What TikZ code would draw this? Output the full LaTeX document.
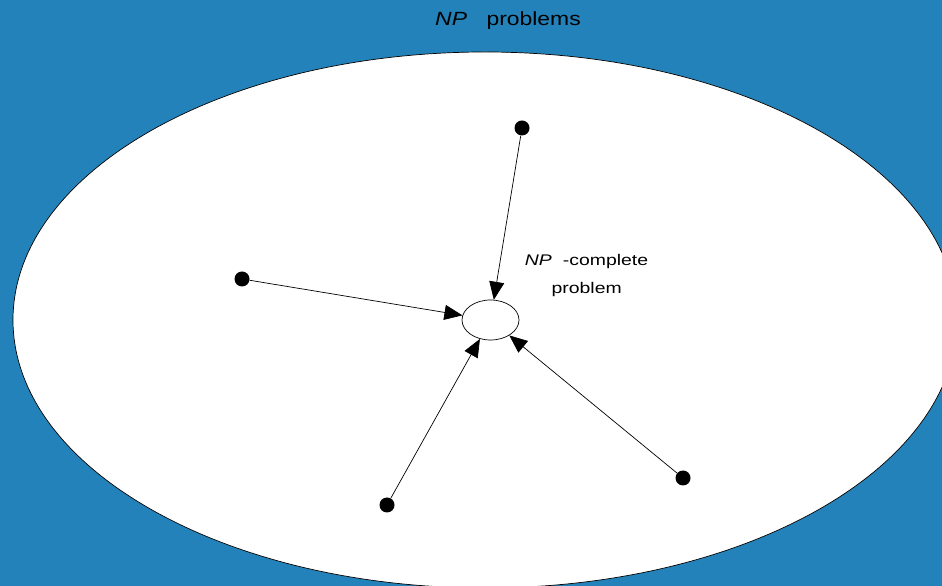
\documentclass[tikz,border=0pt]{standalone}
\usepackage{fontspec}
\setmainfont{Liberation Sans}
\usetikzlibrary{shapes.geometric,arrows.meta}
\definecolor{npblue}{RGB}{35,130,185}
\begin{document}
\begin{tikzpicture}[x=1pt,y=1pt,>={Triangle[length=18pt,width=15pt]},
	dot/.style={circle,fill=black,inner sep=0pt,minimum size=15pt},
	npc/.style={ellipse,draw,fill=white,line width=0.7pt,inner sep=0pt,minimum width=57pt,minimum height=40pt},
	lbl/.style={font=\fontsize{15.4}{18}\selectfont,xscale=1.26,anchor=base,inner sep=0pt}]
			\useasboundingbox (0,0) rectangle (942,586);
			\clip (0,0) rectangle (942,586);
			\fill[npblue] (0,0) rectangle (942,586);
			\draw[fill=white,line width=0.7pt] (485,266) ellipse[x radius=472pt,y radius=268pt];
			\node[font=\fontsize{19.1}{22}\selectfont,xscale=1.2,anchor=base,inner sep=0pt] (title) at (508,560) {\textit{NP}\hspace{0.85em}problems};
			\node[npc] (comp) at (490.5,266) {};
			\node[lbl] (lblA) at (586.5,320) {\textit{NP}\hspace{0.57em}-complete};
			\node[lbl] (lblB) at (586.7,292) {problem};
			\node[dot] (dN) at (522,458) {};
			\node[dot] (dW) at (242,307) {};
			\node[dot] (dS) at (387,81) {};
			\node[dot] (dE) at (683,108) {};
			\foreach \p in {dN,dW,dS,dE}
				\draw[->,line width=0.7pt] (\p) -- (comp);
\end{tikzpicture}
\end{document}
